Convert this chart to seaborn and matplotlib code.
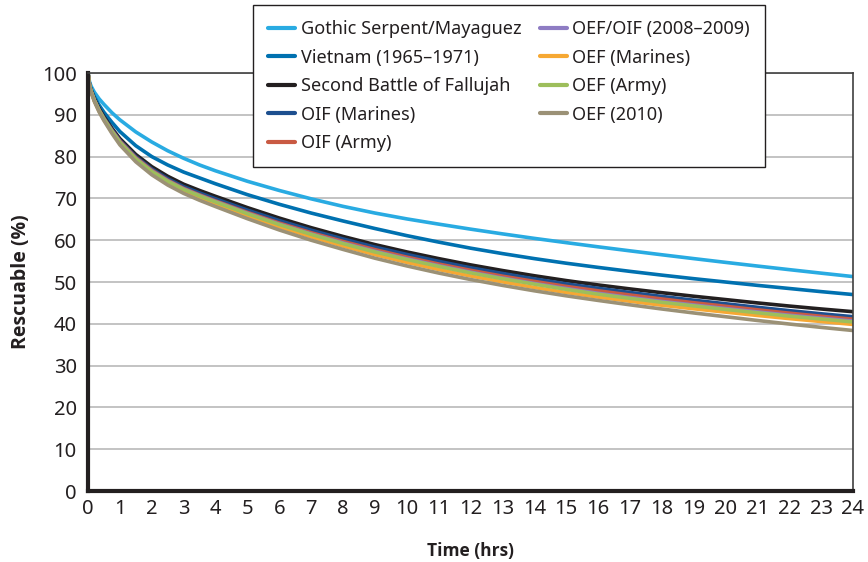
import matplotlib
matplotlib.use("Agg")
import matplotlib.pyplot as plt
import seaborn as sns
import pandas as pd

hours = [0, 0.05, 0.1, 0.2, 0.35, 0.5, 0.75, 1, 1.5, 2, 2.5, 3, 3.5, 4, 5, 6, 7, 8,
         9, 10, 11, 12, 13, 14, 15, 16, 17, 18, 19, 20, 21, 22, 23, 24]

gothic_serpent = [100, 97.8, 96.8, 95.4, 93.8, 92.5, 90.5, 88.8, 85.9, 83.5, 81.4, 79.6, 78.0, 76.6,
                  74.1, 71.9, 69.9, 68.1, 66.5, 65.1, 63.85, 62.65, 61.52, 60.44, 59.42, 58.42,
                  57.46, 56.52, 55.6, 54.7, 53.82, 52.96, 52.12, 51.3]
vietnam = [100, 97.3, 96.1, 94.3, 92.3, 90.6, 88.2, 86.0, 82.6, 80.0, 78.0, 76.3, 74.9, 73.5,
           70.9, 68.6, 66.5, 64.6, 62.8, 61.1, 59.55, 58.1, 56.8, 55.6, 54.5, 53.5,
           52.55, 51.65, 50.8, 50.0, 49.2, 48.45, 47.7, 47.0]
fallujah = [100, 97.1, 95.8, 93.8, 91.5, 89.6, 86.8, 84.3, 80.5, 77.6, 75.3, 73.4, 71.9, 70.5,
            67.8, 65.3, 63.0, 60.9, 58.95, 57.2, 55.6, 54.1, 52.75, 51.5, 50.35, 49.3,
            48.35, 47.45, 46.6, 45.8, 45.0, 44.25, 43.55, 42.9]
oif_marines = [100, 97.0, 95.65, 93.6, 91.25, 89.3, 86.45, 83.9, 80.0, 77.05, 74.7, 72.8, 71.3, 69.9,
               67.2, 64.7, 62.4, 60.3, 58.35, 56.6, 54.95, 53.4, 52.05, 50.75, 49.55, 48.5,
               47.5, 46.55, 45.65, 44.8, 43.95, 43.15, 42.4, 41.7]
oif_army = [100, 96.95, 95.6, 93.5, 91.1, 89.1, 86.25, 83.7, 79.75, 76.75, 74.35, 72.4, 70.85, 69.4,
            66.65, 64.1, 61.8, 59.7, 57.75, 55.95, 54.3, 52.8, 51.4, 50.15, 48.95, 47.9,
            46.9, 45.95, 45.05, 44.2, 43.35, 42.55, 41.8, 41.1]
oef_oif = [100, 96.9, 95.55, 93.45, 91.0, 89.0, 86.1, 83.5, 79.55, 76.55, 74.2, 72.25, 70.7, 69.25,
           66.45, 63.85, 61.5, 59.35, 57.35, 55.55, 53.9, 52.35, 50.95, 49.65, 48.45, 47.3,
           46.3, 45.35, 44.5, 43.65, 42.85, 42.05, 41.35, 40.65]
oef_marines = [100, 96.85, 95.45, 93.3, 90.85, 88.8, 85.85, 83.2, 79.2, 76.15, 73.75, 71.75, 70.15, 68.7,
               65.85, 63.2, 60.8, 58.6, 56.55, 54.7, 53.0, 51.45, 50.05, 48.7, 47.5, 46.4,
               45.4, 44.45, 43.6, 42.8, 42.0, 41.25, 40.55, 39.85]
oef_army = [100, 96.9, 95.5, 93.4, 90.95, 88.95, 86.05, 83.4, 79.45, 76.45, 74.1, 72.15, 70.6, 69.15,
            66.35, 63.75, 61.4, 59.2, 57.2, 55.4, 53.75, 52.2, 50.8, 49.5, 48.25, 47.1,
            46.1, 45.15, 44.3, 43.45, 42.65, 41.85, 41.15, 40.45]
oef_2010 = [100, 96.8, 95.35, 93.15, 90.65, 88.6, 85.55, 82.8, 78.75, 75.65, 73.2, 71.2, 69.55, 68.05,
            65.15, 62.45, 60.0, 57.8, 55.7, 53.85, 52.15, 50.6, 49.2, 47.9, 46.7, 45.6,
            44.55, 43.55, 42.6, 41.7, 40.8, 39.95, 39.15, 38.4]

series_names = [
    "Gothic Serpent/Mayaguez", "Vietnam (1965\u20131971)", "Second Battle of Fallujah",
    "OIF (Marines)", "OIF (Army)", "OEF/OIF (2008\u20132009)", "OEF (Marines)",
    "OEF (Army)", "OEF (2010)",
]
series_values = [gothic_serpent, vietnam, fallujah, oif_marines, oif_army,
                 oef_oif, oef_marines, oef_army, oef_2010]
colors = ["#29ABE2", "#0071B0", "#231F20", "#1D4F8F", "#C95A43",
          "#8E7CC3", "#F6A833", "#9DBE5B", "#9B9176"]

x_ticks = list(range(0, 25))
y_ticks = list(range(0, 101, 10))

rows = []
for name, vals in zip(series_names, series_values):
    for h, v in zip(hours, vals):
        rows.append({"Time": h, "Rescuable": v, "Series": name})
df = pd.DataFrame(rows)

sns.set_style("white")
plt.rcParams["font.family"] = ["Noto Sans", "DejaVu Sans"]

fig = plt.figure(figsize=(8.68, 5.62), dpi=100)
ax = fig.add_axes([0.1014, 0.1263, 0.8813, 0.7438])

ax.yaxis.grid(True, color="#BEBEBE", linewidth=1.3)
ax.set_axisbelow(True)

sns.lineplot(data=df, x="Time", y="Rescuable", hue="Series",
             hue_order=series_names, palette=dict(zip(series_names, colors)),
             linewidth=2.6, legend=False, ax=ax, sort=True)

ax.set_xlim(0, 24)
ax.set_ylim(0, 100)
ax.set_xticks(x_ticks)
ax.set_xticklabels([str(t) for t in x_ticks])
ax.set_yticks(y_ticks)
ax.tick_params(axis="x", direction="in", length=10, width=1.1, color="#231F20",
               labelsize=14.5, pad=6, labelcolor="#231F20")
ax.tick_params(axis="y", length=0, labelsize=14.5, pad=8, labelcolor="#231F20")

for side in ["left", "bottom"]:
    ax.spines[side].set_linewidth(3.0)
    ax.spines[side].set_color("#231F20")
for side in ["top", "right"]:
    ax.spines[side].set_linewidth(1.2)
    ax.spines[side].set_color("#404040")

ax.set_xlabel("Time (hrs)", fontsize=12.5, fontweight="bold", labelpad=16,
              color="#231F20", family=["Open Sans", "DejaVu Sans"])
ax.set_ylabel("Rescuable (%)", fontsize=14, fontweight="bold", labelpad=8,
              color="#231F20", family=["Open Sans", "DejaVu Sans"])

handles = ax.lines[:len(series_names)]
leg = ax.legend(handles, series_names, ncol=2, loc="upper left",
                bbox_to_anchor=(0.2157, 1.163), borderaxespad=0, fontsize=13,
                frameon=True, fancybox=False, edgecolor="#231F20",
                framealpha=1, handlelength=1.5, handletextpad=0.3,
                columnspacing=1.0, labelspacing=0.58, borderpad=0.85)
leg.get_frame().set_linewidth(1.0)
for t in leg.get_texts():
    t.set_color("#231F20")
for l in leg.get_lines():
    l.set_linewidth(3)

fig.savefig("out.png", dpi=100)
